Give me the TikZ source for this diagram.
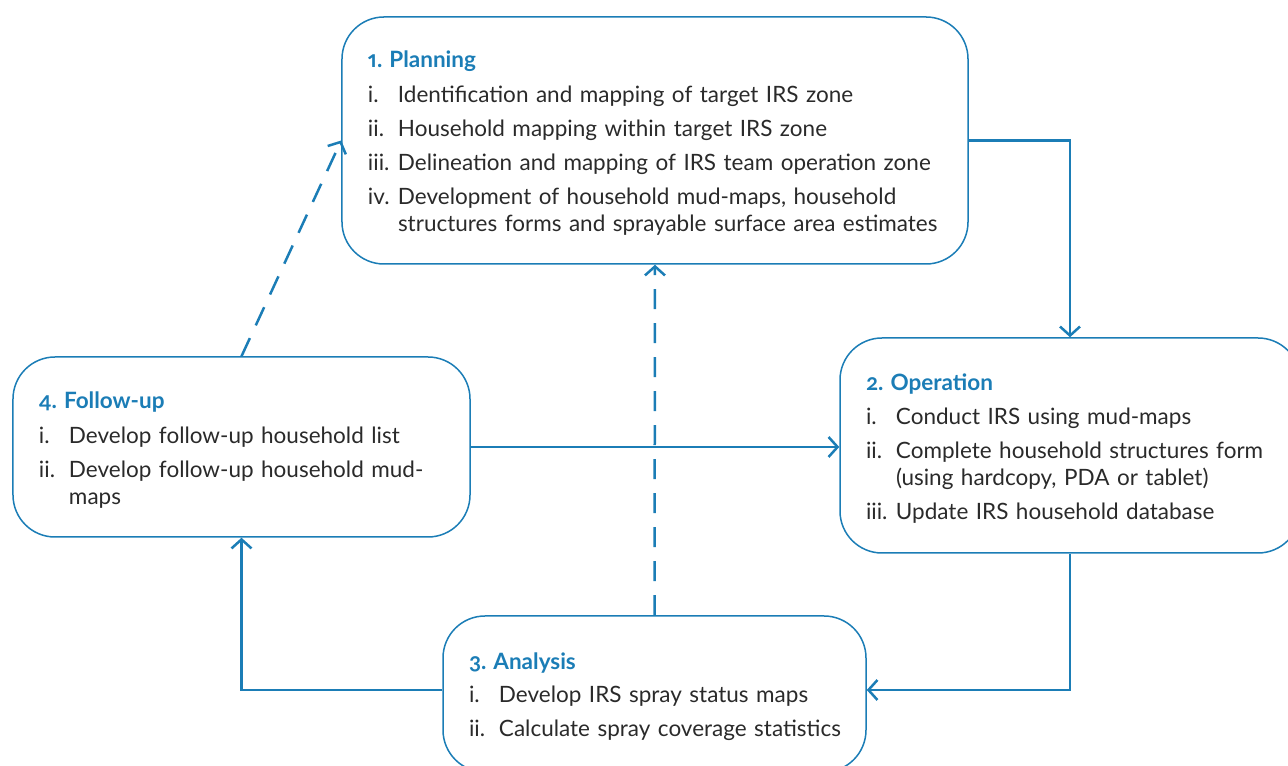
\documentclass[tikz,border=0pt]{standalone}
\usepackage{fontspec}
\setmainfont{Lato}[Numbers={OldStyle,Proportional}]
\usepackage{xcolor}
\usetikzlibrary{arrows.meta}
\definecolor{irsblue}{HTML}{1B7DB6}
\definecolor{irstext}{HTML}{2A2A2A}
\newcommand{\stagehead}[2]{\mbox{\rule{0pt}{22bp}\bfseries\color{irsblue}#1\hspace{7bp}#2}}
\newcommand{\itm}[2]{\mbox{\makebox[30bp][l]{#1}#2}}

\begin{document}
\begin{tikzpicture}[x=1bp,y=1bp,
    stagebox/.style={draw=irsblue,line width=1.5bp,rounded corners=42bp,align=left,text=irstext,
        inner xsep=26bp,inner ysep=0bp,font=\fontsize{22.5bp}{27bp}\selectfont},
    flowline/.style={draw=irsblue,line width=2.5bp,-{Straight Barb[length=9bp,width=20bp]}},
    backline/.style={flowline,dash pattern=on 20bp off 14bp}]
\useasboundingbox (0,0) rectangle (1288,766);

% the four stages
\node[stagebox,text width=574bp,minimum height=247bp] (planning) at (655,625.5) {%
    \stagehead{1.}{Planning}\\[8bp]
    \itm{i.}{Identification and mapping of target IRS zone}\\[7bp]
    \itm{ii.}{Household mapping within target IRS zone}\\[7bp]
    \itm{iii.}{Delineation and mapping of IRS team operation zone}\\[7bp]
    \itm{iv.}{Development of household mud-maps, household}\\
    \itm{}{structures forms and sprayable surface area estimates}};
\node[stagebox,text width=408bp,minimum height=215bp] (operation) at (1070,320.5) {%
    \stagehead{2.}{Operation}\\[7bp]
    \itm{i.}{Conduct IRS using mud-maps}\\[7bp]
    \itm{ii.}{Complete household structures form}\\
    \itm{}{(using hardcopy, PDA or tablet)}\\[7bp]
    \itm{iii.}{Update IRS household database}};
\node[stagebox,text width=371bp,minimum height=156bp] (analysis) at (654.5,72) {%
    \stagehead{3.}{Analysis}\\[6bp]
    \itm{i.}{Develop IRS spray status maps}\\[7bp]
    \itm{ii.}{Calculate spray coverage statistics}};
\node[stagebox,text width=405bp,minimum height=180bp] (followup) at (241.5,319) {%
    \stagehead{4.}{Follow-up}\\[8bp]
    \itm{i.}{Develop follow-up household list}\\[7bp]
    \itm{ii.}{Develop follow-up household mud-}\\
    \itm{}{maps}};

% cycle
\draw[flowline] (planning.east) -| (operation.north);
\draw[flowline] (operation.south) |- ([yshift=4bp]analysis.east);
\draw[flowline] ([yshift=4bp]analysis.west) -| (followup.south);
\draw[flowline] (followup.east) -- (followup.east -| operation.west);

% feedback to planning
\draw[backline] (followup.north) -- (planning.west);
\draw[backline] (analysis.north) -- (planning.south);
\end{tikzpicture}
\end{document}
